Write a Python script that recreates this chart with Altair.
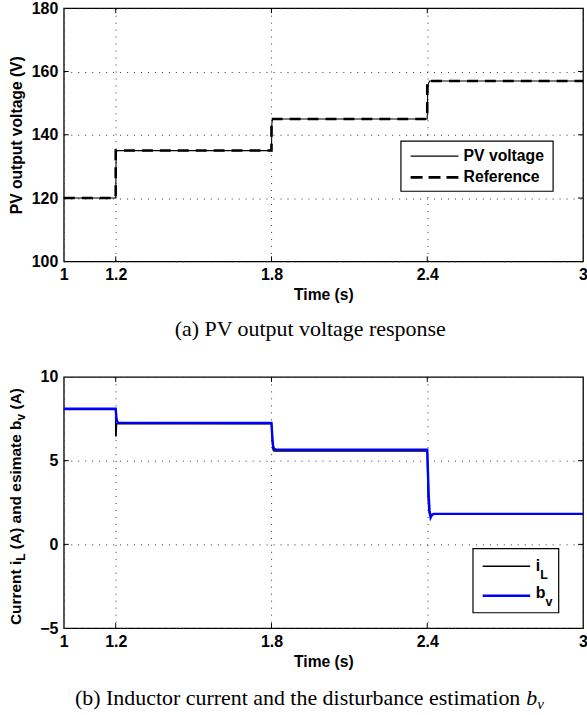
import altair as alt
import pandas as pd

# ---------------- data ----------------
# Panel (a): PV output voltage
pv_t = [1.0, 1.2, 1.2015, 1.204, 1.8, 1.8015, 1.804, 2.4, 2.4015, 2.404, 2.409, 3.0]
pv_v = [120, 120, 133, 135, 135, 143.5, 145, 145, 153, 156, 157, 157]
ref_t = [1.0, 1.2, 1.2, 1.8, 1.8, 2.4, 2.4, 3.0]
ref_v = [120, 120, 135, 135, 145, 145, 157, 157]

# Panel (b): inductor current and disturbance estimate
il_t = [1.0, 1.2, 1.2, 1.2015, 1.203, 1.8, 1.803, 1.806, 1.81, 2.4, 2.403, 2.406, 2.41, 2.42, 3.0]
il_v = [8.05, 8.05, 6.45, 6.5, 7.2, 7.2, 6.2, 5.65, 5.58, 5.58, 3.0, 2.0, 1.75, 1.8, 1.8]
bv_t = [1.0, 1.2, 1.2025, 1.205, 1.21, 1.8, 1.803, 1.806, 1.81, 1.82, 2.4, 2.403, 2.406, 2.409, 2.413, 2.418, 2.425, 3.0]
bv_v = [8.1, 8.1, 7.6, 7.35, 7.27, 7.25, 6.5, 5.9, 5.7, 5.65, 5.65, 4.2, 2.8, 2.0, 1.6, 1.75, 1.82, 1.82]

x_ticks = [1, 1.2, 1.8, 2.4, 3]
x_inner = [1.2, 1.8, 2.4]
y_ticks_a = [100, 120, 140, 160, 180]
y_inner_a = [120, 140, 160]
y_ticks_b = [-5, 0, 5, 10]
y_inner_b = [0, 5]

legend_a = ["PV voltage", "Reference"]
caption_a = "(a) PV output voltage response"
caption_b = "(b) Inductor current and the disturbance estimation"

W = 521
HA = 254
HB = 252
SANS = "Liberation Sans"
SERIF = "Liberation Serif"


def line_df(t, v):
    return pd.DataFrame({"t": t, "v": v, "i": list(range(len(t)))})


def x_enc():
    return alt.X(
        "t:Q", scale=alt.Scale(domain=[1, 3], nice=False, zero=False),
        axis=alt.Axis(values=x_ticks, format="~g", title="Time (s)", grid=True,
                      gridDash=[1, 6], gridColor="#333333", gridWidth=1,
                      labelPadding=5.5, titlePadding=4.8, ticks=False, domain=False,
                      labelFlush=False, labelOverlap=False),
    )


def y_enc(domain, ticks, title):
    kw = dict(values=ticks, grid=True, gridDash=[1, 6], gridColor="#333333", gridWidth=1,
              labelPadding=6, ticks=False, domain=False, minExtent=33, maxExtent=33,
              labelOverlap=False)
    if title:
        kw["title"] = title
        kw["titlePadding"] = 6
    else:
        kw["title"] = None
    return alt.Y("v:Q", scale=alt.Scale(domain=domain, nice=False, zero=False),
                 axis=alt.Axis(**kw))


def inner_ticks(yenc, xin, yin, H):
    xd = pd.DataFrame({"t": xin})
    yd = pd.DataFrame({"v": yin})
    return [
        alt.Chart(xd).mark_rule(color="black", strokeWidth=1).encode(
            x=x_enc(), y=alt.value(H), y2=alt.value(H - 5)),
        alt.Chart(xd).mark_rule(color="black", strokeWidth=1).encode(
            x=x_enc(), y=alt.value(0), y2=alt.value(5)),
        alt.Chart(yd).mark_rule(color="black", strokeWidth=1).encode(
            y=yenc, x=alt.value(0), x2=alt.value(5)),
        alt.Chart(yd).mark_rule(color="black", strokeWidth=1).encode(
            y=yenc, x=alt.value(W), x2=alt.value(W - 5)),
    ]


one = pd.DataFrame({"k": [0]})


def txt(s, x, y, size=15.5, angle=0, weight="bold", font=SANS, style="normal", align="left",
        baseline="alphabetic"):
    kw = dict(text=s, font=font, fontSize=size, fontWeight=weight, align=align,
              baseline=baseline, color="black", fontStyle=style)
    if angle:
        kw["angle"] = angle
    return alt.Chart(one).mark_text(**kw).encode(x=alt.value(x), y=alt.value(y))


# ---------------- panel (a) ----------------
ya = y_enc([100, 180], y_ticks_a, "PV output voltage (V)")
ref_line = alt.Chart(line_df(ref_t, ref_v)).mark_line(
    color="black", strokeWidth=2.6, strokeDash=[11, 7]).encode(x=x_enc(), y=ya, order="i:Q")
pv_line = alt.Chart(line_df(pv_t, pv_v)).mark_line(
    color="black", strokeWidth=1.1).encode(x=x_enc(), y=ya, order="i:Q")

leg_box_a = alt.Chart(one).mark_rect(fill="white", stroke="black", strokeWidth=1.2).encode(
    x=alt.value(338.3), x2=alt.value(491), y=alt.value(133.4), y2=alt.value(183.7))
leg_l1 = alt.Chart(one).mark_rule(color="black", strokeWidth=1.1).encode(
    x=alt.value(348), x2=alt.value(396), y=alt.value(148.4))
leg_l2 = alt.Chart(one).mark_rule(color="black", strokeWidth=2.6, strokeDash=[12, 6]).encode(
    x=alt.value(348), x2=alt.value(396), y=alt.value(169.8))
leg_t1 = txt(legend_a[0], 401.1, 148.4, size=15.8, baseline="middle")
leg_t2 = txt(legend_a[1], 401.1, 169.8, size=15.8, baseline="middle")
cap_a = txt(caption_a, 111.3, 329.4, size=22, weight="normal", font=SERIF)

top = alt.layer(ref_line, pv_line, *inner_ticks(ya, x_inner, y_inner_a, HA),
                leg_box_a, leg_l1, leg_l2, leg_t1, leg_t2, cap_a).properties(width=W, height=HA)

# ---------------- panel (b) ----------------
yb = y_enc([-5, 10], y_ticks_b, None)
il_line = alt.Chart(line_df(il_t, il_v)).mark_line(color="black", strokeWidth=1.5).encode(
    x=x_enc(), y=yb, order="i:Q")
bv_line = alt.Chart(line_df(bv_t, bv_v)).mark_line(color="#0000ff", strokeWidth=2.4).encode(
    x=x_enc(), y=yb, order="i:Q")

# rotated y-axis title with subscripts
bx = -43.2
ytitle = [
    txt("Current i", bx, 249, angle=270),
    txt("L", bx + 4.5, 184.4, size=12, angle=270),
    txt("(A) and esimate b", bx, 172.8, angle=270),
    txt("v", bx + 4.5, 43.6, size=12, angle=270),
    txt("(A)", bx, 32.6, angle=270),
]

leg_box_b = alt.Chart(one).mark_rect(fill="white", stroke="black", strokeWidth=1.2).encode(
    x=alt.value(410.6), x2=alt.value(496.6), y=alt.value(172.3), y2=alt.value(236.6))
leg_b1 = alt.Chart(one).mark_rule(color="black", strokeWidth=1.5).encode(
    x=alt.value(420.3), x2=alt.value(468), y=alt.value(190))
leg_b2 = alt.Chart(one).mark_rule(color="#0000ff", strokeWidth=2.4).encode(
    x=alt.value(420.3), x2=alt.value(468), y=alt.value(219.6))
leg_btxt = [
    txt("i", 473.6, 194.3, size=16),
    txt("L", 478.2, 202.3, size=12.5),
    txt("b", 473.6, 221.6, size=16),
    txt("v", 483.4, 230.3, size=12.5),
]
cap_b = [
    txt(caption_b, 11.3, 329, size=22, weight="normal", font=SERIF),
    txt("b", 464.0, 329, size=22, weight="normal", font=SERIF, style="italic"),
    txt("v", 475.0, 333, size=15, weight="normal", font=SERIF, style="italic"),
]

bottom = alt.layer(il_line, bv_line, *inner_ticks(yb, x_inner, y_inner_b, HB),
                   *ytitle, leg_box_b, leg_b1, leg_b2, *leg_btxt, *cap_b).properties(
    width=W, height=HB)

chart = alt.vconcat(top, bottom, spacing=116, bounds="flush").properties(
    padding={"left": 8, "top": -2, "right": -2, "bottom": 0}
).configure_view(stroke="black", strokeWidth=1.3).configure_axis(
    labelFont=SANS, labelFontSize=16, labelFontWeight="bold", labelColor="black",
    titleFont=SANS, titleFontSize=15.7, titleFontWeight="bold", titleColor="black"
)

chart.save("out.html", embed_options={"renderer": "svg", "actions": False})
